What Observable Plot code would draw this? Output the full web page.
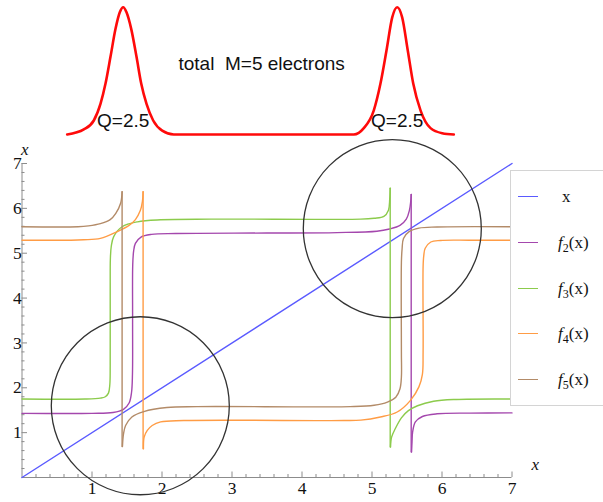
<!DOCTYPE html>
<html><head><meta charset="utf-8">
<script src="https://cdn.jsdelivr.net/npm/d3@7"></script>
<script src="https://cdn.jsdelivr.net/npm/@observablehq/plot@0.6"></script>
<style>
html,body{margin:0;padding:0;background:#fff;}
#wrap{position:relative;width:603px;height:502px;overflow:hidden;}
#wrap svg{position:absolute;left:0;top:0;}
#legend{position:absolute;left:510px;top:170px;width:110px;height:234px;border:1px solid #d4d4d4;background:#fff;font-family:"Liberation Serif",serif;font-size:17px;color:#111;}
.item{position:absolute;left:0;width:100px;height:22px;}
.sw{position:absolute;left:7px;top:10px;width:20px;height:0;border-top:1.6px solid;}
.lab{position:absolute;left:47px;top:0;line-height:22px;white-space:nowrap;}
.lab sub{font-size:12px;vertical-align:-4px;line-height:0;}
</style></head>
<body><div id="wrap"></div>
<script>
// ---------- data ----------
const seriesNames = ["x", "f2", "f3", "f4", "f5"];
const legendLabels = ["x", "f2(x)", "f3(x)", "f4(x)", "f5(x)"];
const seriesColors = ["#5a5aff", "#a447ad", "#8ccb4c", "#ff9c45", "#b38b68"];

const majorTicks = [1, 2, 3, 4, 5, 6, 7];

// y = x
const xLine = [[0, 0], [7, 7]];

// f2(x)
const f2Main = [[0,1.43],[1.0,1.43],[1.3,1.45],[1.45,1.52],[1.53,1.66],[1.565,1.9],[1.578,2.3],[1.58,3.5],[1.582,4.75],[1.595,5.05],[1.62,5.22],[1.70,5.36],[1.85,5.42],[2.2,5.44],[3.5,5.45],[4.5,5.46],[5.07,5.49],[5.25,5.54],[5.40,5.62],[5.49,5.76],[5.535,5.96],[5.553,6.15],[5.56,6.31]];
const f2Drop = [[5.56,6.31],[5.56,0.57]];
const f2Right = [[5.565,0.57],[5.572,0.8],[5.58,1.01],[5.62,1.24],[5.72,1.36],[5.93,1.42],[6.4,1.435],[7,1.44]];

// f3(x)
const f3Main = [[0,1.75],[0.9,1.75],[1.12,1.77],[1.19,1.8],[1.235,1.88],[1.255,2.08],[1.26,2.5],[1.26,4.6],[1.263,4.9],[1.275,5.15],[1.31,5.37],[1.43,5.59],[1.65,5.70],[1.98,5.745],[2.7,5.76],[4.84,5.76],[5.03,5.78],[5.17,5.82],[5.235,5.96],[5.253,6.2],[5.26,6.45]];
const f3Drop = [[5.26,6.45],[5.26,0.68]];
const f3Right = [[5.265,0.68],[5.28,0.9],[5.33,1.08],[5.42,1.33],[5.52,1.49],[5.65,1.6],[5.88,1.70],[6.2,1.74],[7,1.75]];

// f4(x)
const f4Left = [[0,5.29],[0.7,5.29],[0.88,5.30],[1.12,5.33],[1.36,5.48],[1.53,5.62],[1.62,5.75],[1.69,5.95],[1.72,6.15],[1.73,6.37]];
const f4Drop = [[1.73,6.37],[1.73,0.64]];
const f4Main = [[1.735,0.64],[1.745,0.9],[1.79,1.05],[1.86,1.16],[1.98,1.24],[2.31,1.27],[4.6,1.27],[4.84,1.28],[5.12,1.35],[5.36,1.46],[5.55,1.72],[5.67,2.02],[5.72,2.3],[5.73,2.8],[5.73,4.7],[5.74,4.95],[5.76,5.11],[5.84,5.25],[5.98,5.285],[6.4,5.29],[7,5.29]];

// f5(x)
const f5Left = [[0,5.59],[0.8,5.59],[0.95,5.61],[1.12,5.66],[1.26,5.75],[1.34,5.89],[1.41,6.12],[1.43,6.37]];
const f5Drop = [[1.43,6.37],[1.43,0.69]];
const f5Main = [[1.435,0.69],[1.45,0.97],[1.48,1.16],[1.57,1.35],[1.74,1.47],[2.07,1.56],[2.5,1.58],[4.69,1.58],[5.03,1.61],[5.22,1.68],[5.34,1.79],[5.40,1.98],[5.42,2.24],[5.42,2.8],[5.42,4.8],[5.43,5.1],[5.45,5.33],[5.53,5.48],[5.67,5.56],[5.93,5.585],[7,5.59]];

// circles (centres)
const circleX = [1.69, 5.29];
const circleY = [1.60, 5.55];

// red density curve on top (x in the same units as the chart, y relative height)
const redX = [0.646,0.883,1.026,1.121,1.193,1.264,1.336,1.397,1.446,1.493,1.560,1.636,1.703,1.779,1.874,2.003,2.169,3.5,4.740,4.883,5.026,5.121,5.207,5.289,5.360,5.431,5.511,5.589,5.693,5.836,6.003,6.169];
const redY = [0,0.04,0.11,0.24,0.40,0.61,0.83,0.96,1.0,0.96,0.83,0.61,0.40,0.24,0.11,0.03,0,0,0,0.05,0.19,0.40,0.66,0.92,1.0,0.92,0.66,0.40,0.19,0.05,0.01,0];
const redTitle = "total  M=5 electrons";
const qLabels = ["Q=2.5", "Q=2.5"];

// ---------- build tables ----------
const branches = [
  ["x", [xLine]],
  ["f2", [f2Main, f2Drop, f2Right]],
  ["f3", [f3Main, f3Drop, f3Right]],
  ["f4", [f4Left, f4Drop, f4Main]],
  ["f5", [f5Left, f5Drop, f5Main]]
];
const rows = [];
branches.forEach(([name, segs]) => segs.forEach((seg, si) => seg.forEach(([x, y]) => rows.push({series: name, seg: name + "-" + si, x, y}))));
const circles = circleX.map((x, i) => ({x, y: circleY[i]}));
const red = redX.map((x, i) => ({x, y: redY[i]}));
const minorTicks = d3.range(1, 35).map(i => i / 5).filter(v => Math.abs(v - Math.round(v)) > 1e-6);

// ---------- main chart ----------
const W = 603, H = 502, mL = 21.5, mR = 91.5, mT = 163, mB = 25;
const frameW = W - mL - mR, frameH = H - mT - mB;
const axisGray = "#8c8c8c";
const serif = "Liberation Serif";

const mainChart = Plot.plot({
  width: W, height: H,
  marginLeft: mL, marginRight: mR, marginTop: mT, marginBottom: mB,
  x: {domain: [0, 7], axis: null},
  y: {domain: [0, 7], axis: null},
  color: {domain: seriesNames, range: seriesColors},
  style: {background: "transparent", overflow: "visible"},
  marks: [
    Plot.ruleY([0], {stroke: axisGray}),
    Plot.ruleX([0], {stroke: axisGray}),
    Plot.tickX(minorTicks, {x: d => d, stroke: axisGray, insetTop: frameH - 3}),
    Plot.tickX(majorTicks, {x: d => d, stroke: axisGray, insetTop: frameH - 5.5}),
    Plot.tickY(minorTicks, {y: d => d, stroke: axisGray, insetRight: frameW - 3}),
    Plot.tickY(majorTicks, {y: d => d, stroke: axisGray, insetRight: frameW - 5.5}),
    Plot.text(majorTicks, {x: d => d, text: d => String(d), frameAnchor: "bottom", dy: 16.5, fontSize: 17.5, fontFamily: serif, fill: "#111"}),
    Plot.text(majorTicks, {y: d => d, text: d => String(d), frameAnchor: "left", dx: -9, fontSize: 17.5, fontFamily: serif, fill: "#111"}),
    Plot.text(["x"], {text: d => d, frameAnchor: "top-left", dx: -1, dy: -21, fontSize: 17, fontStyle: "italic", fontFamily: serif, fill: "#111"}),
    Plot.text(["x"], {text: d => d, frameAnchor: "bottom-right", dx: 27, dy: -8, fontSize: 17, fontStyle: "italic", fontFamily: serif, fill: "#111"}),
    Plot.line(rows, {x: "x", y: "y", z: "seg", stroke: "series", strokeWidth: 1.4, curve: "catmull-rom"}),
    Plot.dot(circles, {x: "x", y: "y", r: 89, stroke: "#333", strokeWidth: 1.3, fill: "none"})
  ]
});

// ---------- red curve on top ----------
const leftPeak = red.filter(d => d.x < 3.5).reduce((a, b) => (b.y > a.y ? b : a));
const rightPeak = red.filter(d => d.x > 3.5).reduce((a, b) => (b.y > a.y ? b : a));
const qData = [leftPeak.x, rightPeak.x].map((x, i) => ({x, label: qLabels[i]}));

const densityChart = Plot.plot({
  width: W, height: 140,
  marginLeft: mL, marginRight: mR, marginTop: 6.7, marginBottom: 6,
  x: {domain: [0, 7], axis: null},
  y: {domain: [0, 1], axis: null},
  style: {background: "transparent", overflow: "visible"},
  marks: [
    Plot.line(red, {x: "x", y: "y", stroke: "#ff0a0a", strokeWidth: 2.6, curve: "monotone-x"}),
    Plot.text(qData, {x: "x", text: "label", frameAnchor: "bottom", dy: -7.3, lineAnchor: "bottom", fontSize: 19, fontFamily: "Liberation Sans", fill: "#111"}),
    Plot.text([redTitle], {text: d => d, frameAnchor: "top-left", dx: 156.5, dy: 62.5, lineAnchor: "bottom", textAnchor: "start", fontSize: 19, fontFamily: "Liberation Sans", fill: "#111"})
  ]
});

const wrap = document.getElementById("wrap");
wrap.appendChild(mainChart);
wrap.appendChild(densityChart);

// ---------- legend ----------
const legend = document.createElement("div");
legend.id = "legend";
const itemCenters0 = 26, itemStep = 45.75;
legendLabels.forEach((lab, i) => {
  const item = document.createElement("div");
  item.className = "item";
  item.style.top = (itemCenters0 + i * itemStep - 11) + "px";
  const sw = document.createElement("div");
  sw.className = "sw";
  sw.style.borderTopColor = seriesColors[i];
  const t = document.createElement("div");
  t.className = "lab";
  const m = lab.match(/^f(\d)\(x\)$/);
  if (m) t.innerHTML = `<i>f</i><sub>${m[1]}</sub>(x)`;
  else { t.textContent = lab; t.style.left = "51px"; }
  item.appendChild(sw);
  item.appendChild(t);
  legend.appendChild(item);
});
wrap.appendChild(legend);
</script>
</body></html>
